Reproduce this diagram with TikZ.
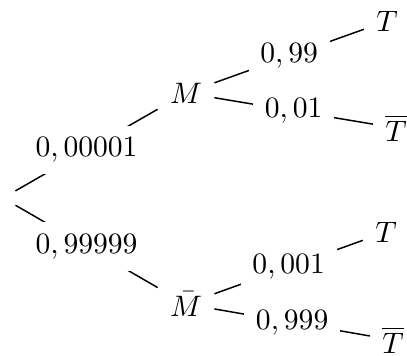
\documentclass[tikz,border=0pt]{standalone}
\begin{document}
\begin{tikzpicture}[x=0.338pt,y=-0.338pt,
  nd/.style={inner sep=4pt},
  lab/.style={fill=white,inner sep=4pt,midway},
  edge/.style={line width=0.5pt}]
\useasboundingbox (0,0) rectangle (407,355);
\node[nd] (r) at (3,198) {};
\node[nd] (m) at (186,93) {$M$};
\node[nd] (mb) at (186,304) {$\bar{M}$};
\node[nd] (t1) at (387,21) {$T$};
\node[nd] (tb1) at (396,128) {$\overline{T}$};
\node[nd] (t2) at (386,232) {$T$};
\node[nd] (tb2) at (393,340) {$\overline{T}$};
\draw[edge] (r) -- node[lab] (l1) {$0,00001$} (m);
\draw[edge] (r) -- node[lab] (l2) {$0,99999$} (mb);
\draw[edge] (m) -- node[lab] (l3) {$0,99$} (t1);
\draw[edge] (m) -- node[lab] (l4) {$0,01$} (tb1);
\draw[edge] (mb) -- node[lab] (l5) {$0,001$} (t2);
\draw[edge] (mb) -- node[lab] (l6) {$0,999$} (tb2);
\end{tikzpicture}
\end{document}
